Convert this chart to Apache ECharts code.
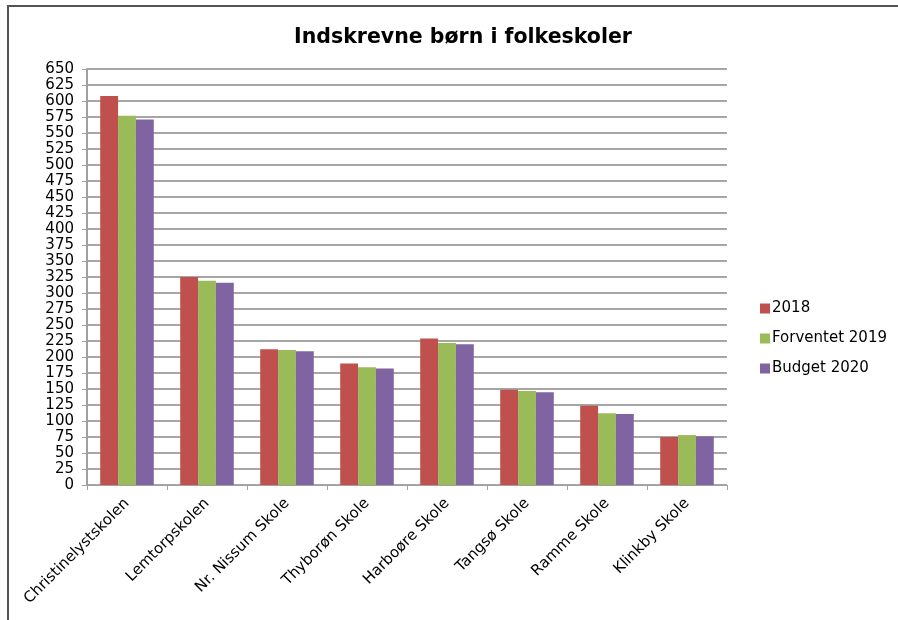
<!DOCTYPE html>
<html>
<head>
<meta charset="utf-8">
<script src="https://cdn.jsdelivr.net/npm/echarts@6/dist/echarts.min.js"></script>
<style>
  html, body { margin: 0; padding: 0; background: #fff; }
  #chart { width: 898px; height: 620px; }
</style>
</head>
<body>
<div id="chart"></div>
<script>
// skoler og elevtal
const schools = ['Christinelystskolen', 'Lemtorpskolen', 'Nr. Nissum Skole', 'Thyborøn Skole',
  'Harboøre Skole', 'Tangsø Skole', 'Ramme Skole', 'Klinkby Skole']
const seriesNames = ['2018', 'Forventet 2019', 'Budget 2020']
const values2018 = [608, 325, 212, 190, 229, 149, 124, 75]
const values2019 = [577, 319, 211, 184, 222, 147, 112, 78]
const values2020 = [571, 316, 209, 182, 220, 145, 111, 76]
const colors = ['#C0504D', '#9BBB59', '#8064A2']

const font = 'DejaVu Sans, Verdana, sans-serif'
const chart = echarts.init(document.getElementById('chart'))

const makeSeries = (name, data, color) => ({
  name,
  type: 'bar',
  data,
  barGap: '0%',
  barCategoryGap: '33%',
  itemStyle: { color },
  emphasis: { disabled: true }
})

chart.setOption({
  animation: false,
  textStyle: { fontFamily: font },
  title: {
    text: 'Indskrevne børn i folkeskoler',
    left: 458,
    top: 22,
    textAlign: 'center',
    textStyle: { fontFamily: font, fontSize: 20.5, fontWeight: 'bold', color: '#000' }
  },
  legend: {
    orient: 'vertical',
    left: 755,
    top: 296,
    itemWidth: 10,
    itemHeight: 10,
    itemGap: 15,
    icon: 'rect',
    textStyle: { fontFamily: font, fontSize: 15, color: '#000', padding: [0, 0, 0, -3] },
    data: seriesNames
  },
  grid: { left: 87, right: 171, top: 69, bottom: 135, containLabel: false },
  xAxis: {
    type: 'category',
    data: schools,
    axisLine: { lineStyle: { color: '#a0a0a0', width: 1 } },
    axisTick: { show: true, length: 5, lineStyle: { color: '#a0a0a0' } },
    axisLabel: { rotate: 45, fontFamily: font, fontSize: 15, color: '#000', margin: 16, interval: 0 }
  },
  yAxis: {
    type: 'value',
    min: 0,
    max: 650,
    interval: 25,
    axisLine: { show: true, lineStyle: { color: '#a0a0a0', width: 2 } },
    axisTick: { show: true, length: 5, lineStyle: { color: '#a0a0a0' } },
    axisLabel: { fontFamily: font, fontSize: 15, color: '#000', margin: 13 },
    splitLine: { lineStyle: { color: '#a6a6a6', width: 2 } }
  },
  graphic: [{
    type: 'polyline',
    shape: { points: [[8, 620], [8, 6], [898, 6]] },
    style: { stroke: '#555', lineWidth: 2, fill: null },
    silent: true
  }],
  series: [
    makeSeries(seriesNames[0], values2018, colors[0]),
    makeSeries(seriesNames[1], values2019, colors[1]),
    makeSeries(seriesNames[2], values2020, colors[2])
  ]
})
</script>
</body>
</html>
